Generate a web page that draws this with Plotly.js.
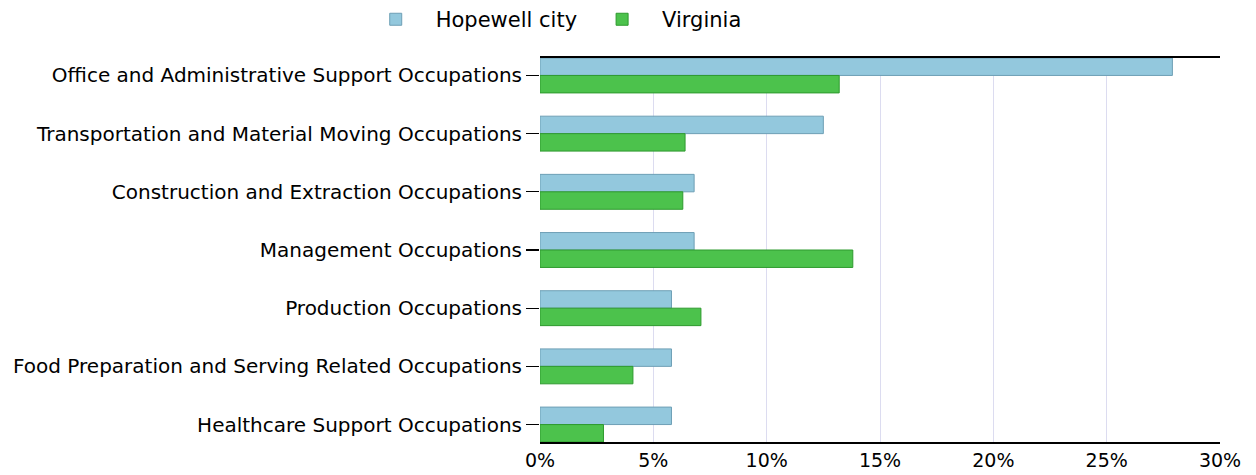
<!DOCTYPE html>
<html>
<head>
<meta charset="utf-8">
<script src="https://cdn.plot.ly/plotly-3.0.1.min.js"></script>
<style>html,body{margin:0;padding:0;background:#fff;}#chart{width:1256px;height:475px;}</style>
</head>
<body>
<div id="chart"></div>
<script>
const categories = [
  "Office and Administrative Support Occupations",
  "Transportation and Material Moving Occupations",
  "Construction and Extraction Occupations",
  "Management Occupations",
  "Production Occupations",
  "Food Preparation and Serving Related Occupations",
  "Healthcare Support Occupations"
];
const hopewell = [27.9, 12.5, 6.8, 6.8, 5.8, 5.8, 5.8];
const virginia = [13.2, 6.4, 6.3, 13.8, 7.1, 4.1, 2.8];
const xTickVals = [0, 5, 10, 15, 20, 25, 30];
const xTickText = ["0%", "5%", "10%", "15%", "20%", "25%", "30%"];

const font = "DejaVu Sans, Verdana, sans-serif";
const traces = [
  {type: "bar", orientation: "h", name: "Hopewell city", y: categories, x: hopewell,
   marker: {color: "#93C8DD", line: {color: "#6E9FB5", width: 1}}},
  {type: "bar", orientation: "h", name: "Virginia", y: categories, x: virginia,
   marker: {color: "#4CC24C", line: {color: "#2E9A2E", width: 1}}}
];
const layout = {
  width: 1256, height: 475,
  margin: {l: 540, r: 36, t: 58, b: 33, autoexpand: false},
  paper_bgcolor: "#fff", plot_bgcolor: "#fff",
  barmode: "group", bargap: 0.4, bargroupgap: 0,
  font: {family: font, size: 20, color: "#000"},
  showlegend: true,
  legend: {orientation: "h", x: -0.271, xanchor: "left", y: 1.1, yanchor: "middle",
           bgcolor: "rgba(0,0,0,0)",
           font: {family: font, size: 21, color: "#000"}, itemwidth: 70, traceorder: "normal"},
  xaxis: {range: [0, 30], tickvals: xTickVals, ticktext: xTickText, showgrid: true,
          gridcolor: "#DCDCF0", gridwidth: 1, zeroline: false, showline: true, mirror: true,
          linecolor: "#000", linewidth: 2, ticks: "", tickfont: {family: font, size: 19}, fixedrange: true},
  yaxis: {type: "category", categoryorder: "array", categoryarray: categories,
          range: [6.3, -0.3], showgrid: false, zeroline: false, showline: false,
          ticks: "outside", ticklen: 13, tickcolor: "#000", tickwidth: 1.2,
          tickfont: {family: font, size: 20}, fixedrange: true}
};
Plotly.newPlot("chart", traces, layout, {displayModeBar: false, staticPlot: true});
</script>
</body>
</html>
